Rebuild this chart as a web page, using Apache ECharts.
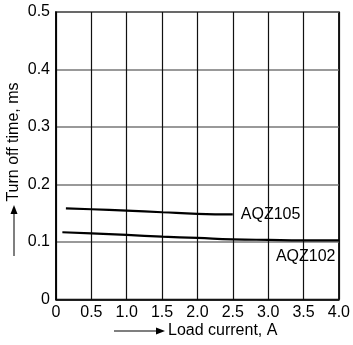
<!DOCTYPE html>
<html><head><meta charset="utf-8">
<script src="https://cdn.jsdelivr.net/npm/echarts@6/dist/echarts.min.js"></script>
<style>html,body{margin:0;padding:0;background:#fff}#c{width:353px;height:345px}</style>
</head><body><div id="c"></div>
<script>
const xTicks = ['0','0.5','1.0','1.5','2.0','2.5','3.0','3.5','4.0'];
const yTicks = ['0','0.1','0.2','0.3','0.4','0.5'];
const aqz105X = [0.14, 0.5, 1.0, 1.5, 2.0, 2.5];
const aqz105Y = [0.1585, 0.157, 0.1545, 0.1517, 0.149, 0.148];
const aqz102X = [0.09, 0.5, 1.0, 1.5, 2.0, 2.5, 3.0, 3.5, 4.0];
const aqz102Y = [0.117, 0.1151, 0.1123, 0.1094, 0.1071, 0.1047, 0.1036, 0.1029, 0.1029];
const xTitle = 'Load current, A';
const yTitle = 'Turn off time, ms';

const FONT = 'Liberation Sans, Arial, Helvetica, sans-serif';
const chart = echarts.init(document.getElementById('c'));
const zip = (xs, ys) => xs.map((x, i) => [x, ys[i]]);
chart.setOption({
  animation: false,
  grid: {left: 56, right: 10.5, top: 12, bottom: 45.5, show: true, borderColor: '#000', borderWidth: 1.5},
  xAxis: {
    type: 'value', min: 0, max: 4, interval: 0.5,
    axisLine: {show: true, lineStyle: {color: '#000', width: 1.5}},
    axisTick: {show: false},
    axisLabel: {margin: 5, color: '#000', fontSize: 16, fontFamily: FONT,
      formatter: v => xTicks[Math.round(v / 0.5)]},
    splitLine: {show: true, lineStyle: {color: '#111', width: 1.2}}
  },
  yAxis: {
    type: 'value', min: 0, max: 0.5, interval: 0.1,
    axisLine: {show: true, lineStyle: {color: '#000', width: 1.5}},
    axisTick: {show: false},
    axisLabel: {margin: 6, color: '#000', fontSize: 16, fontFamily: FONT,
      formatter: v => yTicks[Math.round(v / 0.1)]},
    splitLine: {show: true, lineStyle: {color: '#777', width: 1.5}}
  },
  series: [
    {type: 'line', name: 'AQZ105', data: zip(aqz105X, aqz105Y), smooth: true, symbol: 'none',
     lineStyle: {color: '#000', width: 2.2},
     endLabel: {show: true, formatter: 'AQZ105', color: '#000', fontSize: 16, fontFamily: FONT, distance: 8, offset: [0, 0]}},
    {type: 'line', name: 'AQZ102', data: zip(aqz102X, aqz102Y), smooth: true, symbol: 'none',
     lineStyle: {color: '#000', width: 2.2},
     endLabel: {show: true, formatter: 'AQZ102', color: '#000', fontSize: 16, fontFamily: FONT, distance: 0, offset: [-63, 16]}}
  ],
  graphic: [
    {type: 'line', shape: {x1: 114, y1: 331, x2: 158, y2: 331}, style: {stroke: '#000', lineWidth: 1.2}},
    {type: 'polygon', shape: {points: [[165, 331], [156, 327.5], [156, 334.5]]}, style: {fill: '#000'}},
    {type: 'text', left: 168, top: 323, style: {text: xTitle, fill: '#000', font: '16px ' + FONT}},
    {type: 'line', shape: {x1: 14, y1: 256, x2: 14, y2: 212}, style: {stroke: '#555', lineWidth: 1.5}},
    {type: 'polygon', shape: {points: [[14, 205], [10.5, 214], [17.5, 214]]}, style: {fill: '#000'}},
    {type: 'text', x: 14, y: 142, rotation: Math.PI / 2,
     style: {text: yTitle, fill: '#000', font: '16px ' + FONT, align: 'center', verticalAlign: 'middle'}}
  ]
});
</script></body></html>
